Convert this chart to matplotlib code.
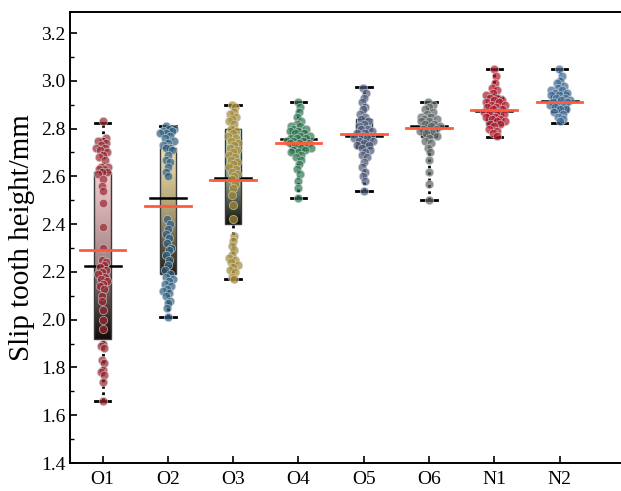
import numpy as np
import matplotlib
matplotlib.use('Agg')
import matplotlib.pyplot as plt
from matplotlib.colors import LinearSegmentedColormap, to_rgb
from matplotlib.patches import Rectangle
from matplotlib.ticker import MultipleLocator

# ---- data ----
groups = ['O1', 'O2', 'O3', 'O4', 'O5', 'O6', 'N1', 'N2']
q1 = [1.92, 2.19, 2.40, 2.71, 2.72, 2.765, 2.815, 2.87]
q3 = [2.62, 2.72, 2.80, 2.79, 2.84, 2.825, 2.935, 2.95]
medians = [2.225, 2.51, 2.595, 2.757, 2.767, 2.812, 2.872, 2.915]
means = [2.292, 2.475, 2.585, 2.738, 2.778, 2.803, 2.879, 2.910]
whisker_lo = [1.66, 2.01, 2.17, 2.51, 2.54, 2.50, 2.765, 2.825]
whisker_hi = [2.825, 2.81, 2.90, 2.91, 2.975, 2.91, 3.05, 3.05]

o1_pts = [2.83, 2.76, 2.75, 2.75, 2.74, 2.73, 2.72, 2.72, 2.71, 2.70, 2.69, 2.68, 2.67,
          2.64, 2.64, 2.63, 2.63, 2.62, 2.62, 2.61, 2.59, 2.56, 2.54, 2.49, 2.39, 2.30,
          2.25, 2.24, 2.23, 2.22, 2.21, 2.20, 2.19, 2.18, 2.17, 2.16, 2.15, 2.14, 2.13,
          2.10, 2.08, 2.04, 2.00, 1.96, 1.90, 1.89, 1.88, 1.83, 1.82, 1.79, 1.78, 1.77,
          1.74, 1.66]
o2_pts = [2.81, 2.80, 2.80, 2.79, 2.79, 2.78, 2.78, 2.77, 2.76, 2.75, 2.74, 2.73, 2.72,
          2.72, 2.71, 2.69, 2.67, 2.66, 2.64, 2.62, 2.60, 2.42, 2.40, 2.38, 2.36, 2.34,
          2.32, 2.30, 2.29, 2.27, 2.25, 2.23, 2.21, 2.19, 2.18, 2.17, 2.16, 2.15, 2.14,
          2.13, 2.12, 2.11, 2.10, 2.08, 2.07, 2.05, 2.01]
o3_pts = [2.90, 2.89, 2.87, 2.86, 2.85, 2.84, 2.83, 2.82, 2.80, 2.79, 2.78, 2.77, 2.76,
          2.75, 2.74, 2.73, 2.72, 2.71, 2.70, 2.69, 2.68, 2.67, 2.66, 2.65, 2.64, 2.63,
          2.62, 2.61, 2.60, 2.59, 2.57, 2.55, 2.52, 2.48, 2.42, 2.35, 2.33, 2.31, 2.29,
          2.27, 2.26, 2.25, 2.24, 2.23, 2.22, 2.21, 2.20, 2.18, 2.17]
o4_pts = [2.91, 2.89, 2.87, 2.85, 2.83, 2.82, 2.81, 2.81, 2.80, 2.80, 2.79, 2.79, 2.78,
          2.78, 2.77, 2.77, 2.76, 2.76, 2.76, 2.75, 2.75, 2.75, 2.74, 2.74, 2.74, 2.73,
          2.73, 2.72, 2.72, 2.71, 2.71, 2.70, 2.70, 2.69, 2.68, 2.67, 2.65, 2.63, 2.61,
          2.58, 2.55, 2.51]
o5_pts = [2.97, 2.95, 2.93, 2.91, 2.89, 2.88, 2.86, 2.85, 2.84, 2.83, 2.82, 2.81, 2.80,
          2.80, 2.79, 2.78, 2.78, 2.77, 2.77, 2.76, 2.76, 2.75, 2.75, 2.74, 2.73, 2.73,
          2.72, 2.71, 2.70, 2.69, 2.68, 2.66, 2.64, 2.62, 2.60, 2.58, 2.54]
o6_pts = [2.91, 2.90, 2.89, 2.88, 2.87, 2.86, 2.85, 2.85, 2.84, 2.84, 2.83, 2.83, 2.82,
          2.82, 2.81, 2.81, 2.80, 2.80, 2.79, 2.79, 2.78, 2.78, 2.77, 2.76, 2.75, 2.74,
          2.72, 2.70, 2.67, 2.62, 2.57, 2.50]
n1_pts = [3.05, 3.02, 2.99, 2.97, 2.96, 2.95, 2.94, 2.93, 2.93, 2.92, 2.92, 2.91, 2.91,
          2.90, 2.90, 2.89, 2.89, 2.88, 2.88, 2.87, 2.87, 2.86, 2.86, 2.85, 2.85, 2.84,
          2.84, 2.83, 2.83, 2.82, 2.82, 2.81, 2.80, 2.79, 2.78, 2.77]
n2_pts = [3.05, 3.02, 3.00, 2.99, 2.98, 2.97, 2.96, 2.96, 2.95, 2.95, 2.94, 2.94, 2.93,
          2.93, 2.92, 2.92, 2.91, 2.91, 2.90, 2.90, 2.89, 2.89, 2.88, 2.88, 2.87, 2.86,
          2.85, 2.84, 2.83]
points = [o1_pts, o2_pts, o3_pts, o4_pts, o5_pts, o6_pts, n1_pts, n2_pts]

# ---- styles ----
box_top = ['#f7cdd0', '#f5e3a8', '#d2ecc9', '#a3dcb8', '#abcbee', '#bcc0c4', '#b98ed9', '#a0c4ea']
box_bottom = ['#120a0a', '#1f1b12', '#12120c', '#0d2a1a', '#1b222e', '#1e2022', '#281636', '#182636']
pt_colors = ['#9c2530', '#2c5f82', '#a48a30', '#2a7850', '#4a5a7a', '#5c6466', '#b51627', '#3a6a98']
mean_color = '#ff5b3a'

XMIN, XMAX = 0.5, 8.94
YMIN, YMAX = 1.4, 3.288
FIG_W, FIG_H = 621, 491
AX_L, AX_B, AX_R, AX_T = 70, 28, 621, 479  # pixel box of the axes


def jitter_offsets(vals, band=0.03, per_pt=0.016, max_w=0.19):
    # spread wider where points are dense; golden-ratio sequence instead of random
    vals = np.asarray(vals)
    offs = np.zeros(len(vals))
    for n, v in enumerate(vals):
        count = np.sum(np.abs(vals - v) <= band)
        w = min(max_w, per_pt * (count - 1))
        u = (n * 0.6180339887 + 0.31) % 1.0
        offs[n] = w * (2 * u - 1)
    return offs


def box_cmap(name, bottom, top):
    # dark only near the lower end, light colour over most of the box
    b, t = np.array(to_rgb(bottom)), np.array(to_rgb(top))
    mid = b + 0.62 * (t - b)
    return LinearSegmentedColormap.from_list(name, [(0, b), (0.45, mid), (1, t)])


plt.rcParams['font.family'] = ['Liberation Serif', 'DejaVu Serif']
fig = plt.figure(figsize=(FIG_W / 100, FIG_H / 100), dpi=100)
ax = fig.add_axes([AX_L / FIG_W, AX_B / FIG_H, (AX_R - AX_L) / FIG_W, (AX_T - AX_B) / FIG_H])

box_w = 0.25
cap_w = 0.24
med_w = 0.55
mean_w = 0.70
grad = np.linspace(0, 1, 256).reshape(-1, 1)

for i, name in enumerate(groups):
    x = i + 1
    ax.imshow(grad, extent=(x - box_w / 2, x + box_w / 2, q1[i], q3[i]), origin='lower',
              aspect='auto', cmap=box_cmap(f'g{i}', box_bottom[i], box_top[i]), zorder=1)
    ax.add_patch(Rectangle((x - box_w / 2, q1[i]), box_w, q3[i] - q1[i], fill=False,
                           edgecolor='#3a3a3a', linewidth=1.0, zorder=2))
    # whiskers
    ax.plot([x, x], [whisker_lo[i], q1[i]], color='black', linestyle=(0, (1, 1.3)), linewidth=2, zorder=2)
    ax.plot([x, x], [q3[i], whisker_hi[i]], color='black', linestyle=(0, (1, 1.3)), linewidth=2, zorder=2)
    ax.plot([x - cap_w / 2, x + cap_w / 2], [whisker_lo[i]] * 2, color='black', linewidth=2, zorder=3)
    ax.plot([x - cap_w / 2, x + cap_w / 2], [whisker_hi[i]] * 2, color='black', linewidth=2, zorder=3)
    # median
    ax.plot([x - med_w / 2, x + med_w / 2], [medians[i]] * 2, color='black', linewidth=1.8, zorder=3)
    # points
    offs = jitter_offsets(points[i])
    ax.scatter(x + offs, points[i], s=36, color=pt_colors[i], alpha=0.7,
               edgecolors='#cfcfcf', linewidths=0.6, zorder=4)
    # mean
    ax.plot([x - mean_w / 2, x + mean_w / 2], [means[i]] * 2, color=mean_color, linewidth=2, zorder=5)

ax.set_xlim(XMIN, XMAX)
ax.set_ylim(YMIN, YMAX)
ax.set_xticks(range(1, len(groups) + 1))
ax.set_xticklabels(groups)
ax.yaxis.set_minor_locator(MultipleLocator(0.1))
ax.set_yticks(np.arange(1.4, 3.21, 0.2))
ax.set_yticklabels([f'{v:.1f}' for v in np.arange(1.4, 3.21, 0.2)])
ax.tick_params(axis='both', which='major', direction='in', length=5, width=1.2, labelsize=14)
ax.tick_params(axis='y', which='minor', direction='in', length=3, width=1.0)
ax.tick_params(axis='x', which='major', pad=6)
ax.spines['right'].set_visible(False)
for s in ['left', 'top', 'bottom']:
    ax.spines[s].set_linewidth(1.4)
ax.set_ylabel('Slip tooth height/mm', fontsize=21, labelpad=4)

fig.savefig('out.png', dpi=100)
